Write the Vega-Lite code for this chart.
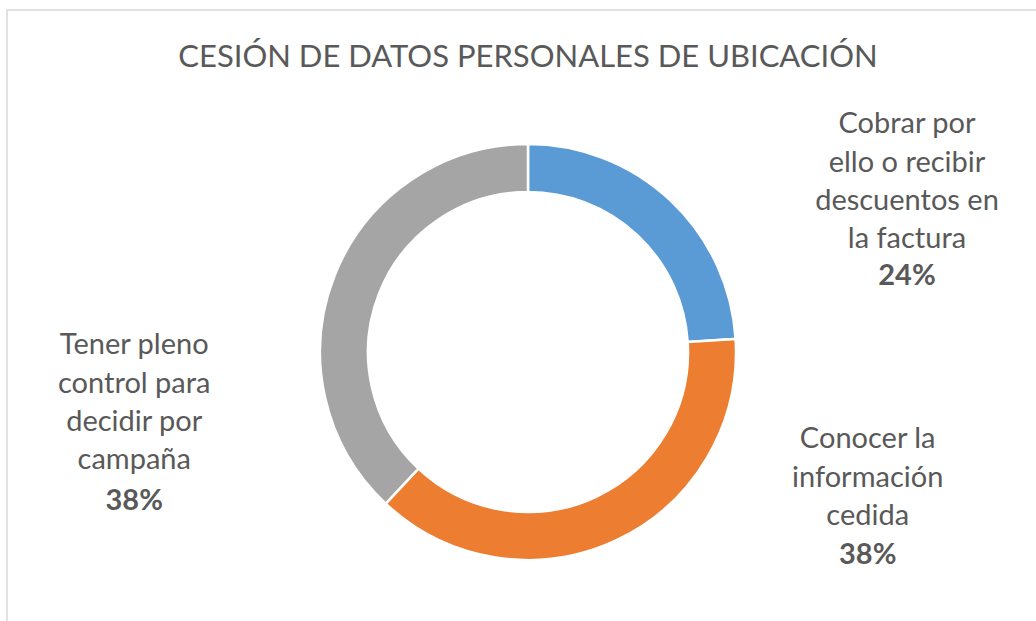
{
  "$schema": "https://vega.github.io/schema/vega-lite/v6.json",
  "autosize": {"type": "none"},
  "padding": {"left": 7, "top": 10, "right": -13, "bottom": -73},
  "width": 1042,
  "height": 684,
  "background": "white",
  "view": {"stroke": "#D9D9D9", "strokeWidth": 1.5, "fill": "white"},
  "config": {
    "view": {"stroke": "#D9D9D9", "strokeWidth": 1.5},
    "font": "Lato"
  },
  "title": {
    "text": "CESIÓN DE DATOS PERSONALES DE UBICACIÓN",
    "font": "Lato",
    "fontSize": 31,
    "fontWeight": "normal",
    "color": "#595959",
    "anchor": "middle",
    "frame": "group",
    "baseline": "alphabetic",
    "offset": -55,
    "dy": 43
  },
  "data": {
    "values": [
      {"categoria": "Cobrar por ello o recibir descuentos en la factura", "etiqueta": "Cobrar por\nello o recibir\ndescuentos en\nla factura", "valor": 0.24},
      {"categoria": "Conocer la información cedida", "etiqueta": "Conocer la\ninformación\ncedida", "valor": 0.38},
      {"categoria": "Tener pleno control para decidir por campaña", "etiqueta": "Tener pleno\ncontrol para\ndecidir por\ncampaña", "valor": 0.38}
    ]
  },
  "encoding": {
    "theta": {"field": "valor", "type": "quantitative", "stack": true},
    "detail": {"field": "categoria", "type": "nominal"}
  },
  "layer": [
    {
      "mark": {"type": "arc", "innerRadius": 160, "outerRadius": 208, "stroke": "white", "strokeWidth": 2.5},
      "encoding": {
        "color": {
          "field": "categoria",
          "type": "nominal",
          "scale": {
            "domain": ["Cobrar por ello o recibir descuentos en la factura", "Conocer la información cedida", "Tener pleno control para decidir por campaña"],
            "range": ["#5B9BD5", "#ED7D31", "#A5A5A5"]
          },
          "legend": null
        }
      }
    },
    {
      "mark": {"type": "text", "radius": 260, "dx": 201, "dy": -29, "fontSize": 29, "color": "#595959", "align": "center", "baseline": "alphabetic", "lineBreak": "\n", "lineHeight": 38.3},
      "encoding": {"text": {"condition": {"test": "datum.categoria === 'Cobrar por ello o recibir descuentos en la factura'", "field": "etiqueta"}, "value": ""}}
    },
    {
      "mark": {"type": "text", "radius": 260, "dx": 201, "dy": 122.5, "fontSize": 29, "fontWeight": "bold", "color": "#595959", "align": "center", "baseline": "alphabetic"},
      "encoding": {"text": {"condition": {"test": "datum.categoria === 'Cobrar por ello o recibir descuentos en la factura'", "field": "valor", "format": ".0%"}, "value": ""}}
    },
    {
      "mark": {"type": "text", "radius": 260, "dx": 229, "dy": -139, "fontSize": 29, "color": "#595959", "align": "center", "baseline": "alphabetic", "lineBreak": "\n", "lineHeight": 38.3},
      "encoding": {"text": {"condition": {"test": "datum.categoria === 'Conocer la información cedida'", "field": "etiqueta"}, "value": ""}}
    },
    {
      "mark": {"type": "text", "radius": 260, "dx": 229, "dy": -23, "fontSize": 29, "fontWeight": "bold", "color": "#595959", "align": "center", "baseline": "alphabetic"},
      "encoding": {"text": {"condition": {"test": "datum.categoria === 'Conocer la información cedida'", "field": "valor", "format": ".0%"}, "value": ""}}
    },
    {
      "mark": {"type": "text", "radius": 260, "dx": -152, "dy": 98, "fontSize": 29, "color": "#595959", "align": "center", "baseline": "alphabetic", "lineBreak": "\n", "lineHeight": 38.3},
      "encoding": {"text": {"condition": {"test": "datum.categoria === 'Tener pleno control para decidir por campaña'", "field": "etiqueta"}, "value": ""}}
    },
    {
      "mark": {"type": "text", "radius": 260, "dx": -152, "dy": 254, "fontSize": 29, "fontWeight": "bold", "color": "#595959", "align": "center", "baseline": "alphabetic"},
      "encoding": {"text": {"condition": {"test": "datum.categoria === 'Tener pleno control para decidir por campaña'", "field": "valor", "format": ".0%"}, "value": ""}}
    }
  ]
}
